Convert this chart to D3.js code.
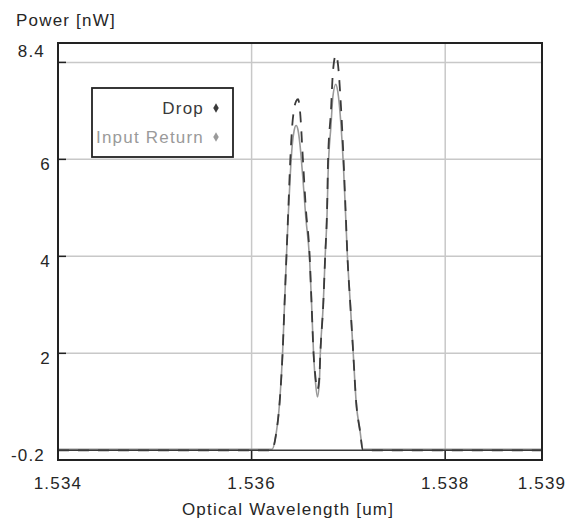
<!DOCTYPE html>
<html lang="en">
<head>
<meta charset="UTF-8">
<title>Power vs Optical Wavelength</title>
<style>
    body { margin: 0; background: #fff; }
    svg text { font-family: "Liberation Sans", Arial, sans-serif; font-size: 17px; letter-spacing: 1.2px; fill: #262626; }
</style>
</head>
<body>
<svg id="chart" width="566" height="521"></svg>
<script src="https://d3js.org/d3.v7.min.js"></script>
<script>
// data
const dropWavelength = [1.53400, 1.53621, 1.53625, 1.53629, 1.53632, 1.53634, 1.53636, 1.53638, 1.53640, 1.53642,
    1.53644, 1.53646, 1.53648, 1.53650, 1.53653, 1.53656, 1.53660, 1.53662, 1.53664, 1.53666,
    1.53668, 1.53670, 1.53671, 1.53674, 1.53676, 1.53678, 1.53679, 1.53682, 1.53684, 1.53687,
    1.53689, 1.53692, 1.53695, 1.53697, 1.53699, 1.53702, 1.53705, 1.53708, 1.53712, 1.53715, 1.53900];
const dropPower = [0, 0, 0.3, 1.0, 2.0, 3.0, 4.0, 5.0, 6.0, 6.7,
    7.05, 7.2, 7.24, 7.0, 6.0, 5.0, 4.0, 3.0, 2.0, 1.5,
    1.25, 1.5, 2.0, 3.0, 4.0, 5.0, 6.0, 7.0, 7.8, 8.15,
    8.0, 7.2, 6.0, 5.0, 4.0, 3.0, 2.0, 1.0, 0.4, 0, 0];

const returnWavelength = dropWavelength;
const returnPower = [0.02, 0.02, 0.3, 1.0, 2.0, 3.0, 4.0, 4.9, 5.7, 6.3,
    6.6, 6.7, 6.6, 6.3, 5.6, 4.8, 3.9, 3.0, 2.0, 1.4,
    1.1, 1.4, 2.0, 3.0, 4.0, 4.9, 5.7, 6.7, 7.3, 7.55,
    7.4, 6.8, 5.8, 4.9, 4.0, 3.0, 2.0, 1.0, 0.4, 0.02, 0.02];

const xTicks = [1.536, 1.538];
const xTickLabels = ["1.534", "1.536", "1.538", "1.539"];
const xLabelValues = [1.534, 1.536, 1.538, 1.539];
const yTicks = [2, 4, 6, 8];
const yTickLabels = ["2", "4", "6"];
const yLabelValues = [2, 4, 6];
const seriesNames = ["Drop", "Input Return"];
const seriesColors = ["#3a3a3a", "#9a9a9a"];

const svg = d3.select("#chart");
const plotL = 58, plotR = 542, plotT = 43, plotB = 460;

const x = d3.scaleLinear().domain([1.534, 1.539]).range([plotL, plotR]);
const y = d3.scaleLinear().domain([-0.2, 8.4]).range([plotB, plotT]);

// grid
svg.append("g").selectAll("line").data(yTicks).enter().append("line")
    .attr("x1", plotL).attr("x2", plotR)
    .attr("y1", d => y(d)).attr("y2", d => y(d))
    .attr("stroke", "#c8c8c8").attr("stroke-width", 1.5);
svg.append("g").selectAll("line").data(xTicks).enter().append("line")
    .attr("x1", d => x(d)).attr("x2", d => x(d))
    .attr("y1", plotT).attr("y2", plotB)
    .attr("stroke", "#c8c8c8").attr("stroke-width", 1.5);

// tick marks
svg.append("g").selectAll("line").data(yTicks).enter().append("line")
    .attr("x1", plotL).attr("x2", plotL + 8)
    .attr("y1", d => y(d)).attr("y2", d => y(d))
    .attr("stroke", "#222").attr("stroke-width", 1.5);
svg.append("g").selectAll("line").data(xTicks).enter().append("line")
    .attr("x1", d => x(d)).attr("x2", d => x(d))
    .attr("y1", plotB).attr("y2", plotB - 9)
    .attr("stroke", "#222").attr("stroke-width", 1.5);

// series
const line = d3.line().x(d => x(d[0])).y(d => y(d[1])).curve(d3.curveMonotoneX);
const returnData = returnWavelength.map((w, i) => [w, returnPower[i]]);
const dropData = dropWavelength.map((w, i) => [w, dropPower[i]]);

svg.append("path").datum(returnData).attr("d", line)
    .attr("fill", "none").attr("stroke", seriesColors[1]).attr("stroke-width", 1.6);

// zero baseline
svg.append("line").attr("x1", plotL).attr("x2", plotR)
    .attr("y1", y(0)).attr("y2", y(0))
    .attr("stroke", seriesColors[0]).attr("stroke-width", 1.6);

svg.append("path").datum(dropData).attr("d", line)
    .attr("fill", "none").attr("stroke", seriesColors[0]).attr("stroke-width", 1.8)
    .attr("stroke-dasharray", "11,9");

// frame
svg.append("rect").attr("x", plotL).attr("y", plotT)
    .attr("width", plotR - plotL).attr("height", plotB - plotT)
    .attr("fill", "none").attr("stroke", "#222").attr("stroke-width", 2);

// y labels
svg.append("g").selectAll("text").data(yLabelValues).enter().append("text")
    .attr("x", 51).attr("y", d => y(d) + 11)
    .attr("text-anchor", "end").text((d, i) => yTickLabels[i]);
svg.append("text").attr("x", 45).attr("y", plotT + 14).attr("text-anchor", "end").text("8.4");
svg.append("text").attr("x", 45).attr("y", plotB + 1).attr("text-anchor", "end").text("-0.2");

// x labels
svg.append("g").selectAll("text").data(xLabelValues).enter().append("text")
    .attr("x", d => x(d)).attr("y", 489)
    .attr("text-anchor", "middle").text((d, i) => xTickLabels[i]);

svg.append("text").attr("x", 288).attr("y", 515).attr("text-anchor", "middle").text("Optical Wavelength [um]");
svg.append("text").attr("x", 16).attr("y", 26).text("Power [nW]");

// legend
const legend = svg.append("g");
legend.append("rect").attr("x", 92).attr("y", 88).attr("width", 141).attr("height", 69)
    .attr("fill", "#fff").attr("stroke", "#222").attr("stroke-width", 1.8);
seriesNames.forEach((name, i) => {
    legend.append("text").attr("x", 204).attr("y", 114 + i * 29)
        .attr("text-anchor", "end").style("fill", seriesColors[i]).text(name);
    legend.append("path").attr("d", d3.symbol(d3.symbolDiamond, 26)())
        .attr("transform", `translate(216,${108 + i * 29})`)
        .attr("fill", seriesColors[i]);
});
</script>
</body>
</html>
